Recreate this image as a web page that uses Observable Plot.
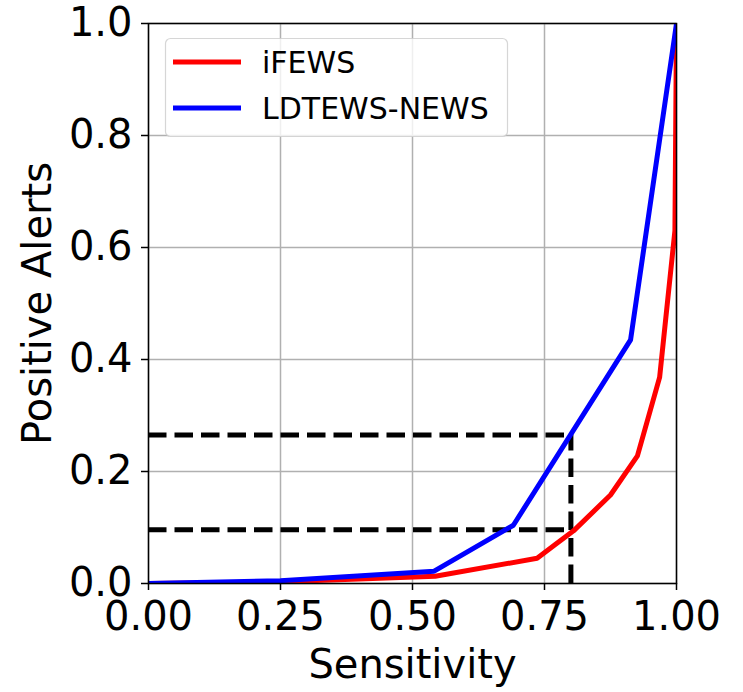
<!DOCTYPE html>
<html>
<head>
<meta charset="utf-8">
<script src="https://cdn.jsdelivr.net/npm/d3@7"></script>
<script src="https://cdn.jsdelivr.net/npm/@observablehq/plot@0.6"></script>
<style>
  html, body { margin: 0; padding: 0; background: white; }
  #wrap { position: relative; width: 743px; height: 692px; }
</style>
</head>
<body>
<div id="wrap"></div>
<script>
// ---- data ----
const sensIFEWS    = [0, 0.25, 0.543, 0.736, 0.771, 0.805, 0.875, 0.926, 0.968, 0.997, 1.0];
const alertsIFEWS  = [0, 0.003, 0.013, 0.045, 0.070, 0.094, 0.158, 0.228, 0.368, 0.630, 1.0];
const sensLDTEWS   = [0, 0.25, 0.541, 0.691, 0.913, 1.0];
const alertsLDTEWS = [0, 0.005, 0.022, 0.104, 0.435, 1.0];
const seriesNames  = ["iFEWS", "LDTEWS-NEWS"];
const seriesColors = ["#ff0000", "#0000ff"];
const xTicks = [0, 0.25, 0.5, 0.75, 1];
const yTicks = [0, 0.2, 0.4, 0.6, 0.8, 1];
const refSensitivity = 0.8;
const refAlerts = [0.096, 0.265];
const xLabel = "Sensitivity";
const yLabel = "Positive Alerts";

const iData = sensIFEWS.map((x, i) => ({x, y: alertsIFEWS[i]}));
const lData = sensLDTEWS.map((x, i) => ({x, y: alertsLDTEWS[i]}));

const chart = Plot.plot({
  width: 743,
  height: 692,
  marginLeft: 148,
  marginRight: 67,
  marginTop: 23,
  marginBottom: 109,
  style: {fontFamily: "DejaVu Sans", background: "white", color: "black", overflow: "visible"},
  x: {domain: [0, 1], label: null},
  y: {domain: [0, 1], label: null},
  marks: [
    Plot.gridX(xTicks, {stroke: "#b0b0b0", strokeOpacity: 1, strokeWidth: 1.5}),
    Plot.gridY(yTicks, {stroke: "#b0b0b0", strokeOpacity: 1, strokeWidth: 1.5}),
    Plot.ruleY(refAlerts, {x1: 0, x2: refSensitivity, stroke: "black", strokeWidth: 5, strokeDasharray: "18.5,8", strokeLinecap: "butt"}),
    Plot.ruleX([refSensitivity], {y1: 0, y2: d3.max(refAlerts), stroke: "black", strokeWidth: 5, strokeDasharray: "18.5,8", strokeLinecap: "butt"}),
    Plot.line(iData, {x: "x", y: "y", stroke: seriesColors[0], strokeWidth: 5, clip: true}),
    Plot.line(lData, {x: "x", y: "y", stroke: seriesColors[1], strokeWidth: 5, clip: true}),
    Plot.frame({stroke: "black", strokeWidth: 1.5}),
    Plot.axisX(xTicks, {tickFormat: ".2f", tickSize: 7, tickPadding: 11, fontSize: 40, strokeWidth: 1.5, label: null}),
    Plot.axisY(yTicks, {tickFormat: ".1f", tickSize: 7, tickPadding: 9, fontSize: 40, strokeWidth: 1.5, label: null}),
    Plot.text([xLabel], {text: d => d, frameAnchor: "bottom", textAnchor: "middle", dy: 94, lineAnchor: "bottom", fontSize: 40, fill: "black"}),
    Plot.text([yLabel], {text: d => d, frameAnchor: "left", textAnchor: "middle", rotate: -90, dx: -98, lineAnchor: "bottom", fontSize: 40, fill: "black"})
  ]
});

document.getElementById("wrap").appendChild(chart);

// ---- legend (inside the axes, upper left) ----
const svg = d3.select(chart);
const lg = svg.append("g").attr("transform", "translate(165,38)");
lg.append("rect")
  .attr("x", 0.5).attr("y", 0.5).attr("width", 342).attr("height", 98)
  .attr("rx", 5).attr("ry", 5)
  .attr("fill", "white").attr("fill-opacity", 0.8)
  .attr("stroke", "#cccccc").attr("stroke-opacity", 0.8).attr("stroke-width", 1.2);
const items = lg.selectAll("g.item").data(seriesNames).join("g")
  .attr("class", "item")
  .attr("transform", (d, i) => `translate(0,${i * 46})`);
items.append("line")
  .attr("x1", 8).attr("x2", 76).attr("y1", 24).attr("y2", 24)
  .attr("stroke", (d, i) => seriesColors[i]).attr("stroke-width", 5);
items.append("text")
  .attr("x", 97).attr("y", 35)
  .attr("text-anchor", "start")
  .attr("font-family", "DejaVu Sans").attr("font-size", 30).attr("fill", "black")
  .text(d => d);
</script>
</body>
</html>
